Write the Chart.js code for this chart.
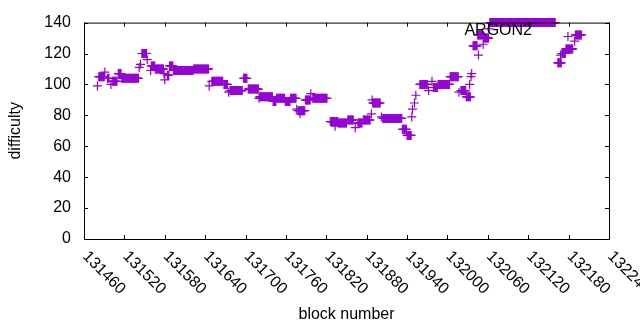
<!DOCTYPE html>
<html>
<head>
<meta charset="utf-8">
<script src="https://cdn.jsdelivr.net/npm/chart.js@4/dist/chart.umd.min.js"></script>
<style>
  html, body { margin: 0; padding: 0; background: #fff; }
</style>
</head>
<body>
<canvas id="chart" width="640" height="330"></canvas>
<script>
// runs of consecutive blocks sharing the same difficulty
const runStart = [
  131480, 131482, 131491, 131495, 131500, 131502, 131511, 131516, 131542, 131544,
  131546, 131554, 131559, 131560, 131566, 131579, 131580, 131584, 131587, 131593,
  131623, 131646, 131650, 131668, 131675, 131677, 131697, 131704, 131720, 131721,
  131741, 131746, 131759, 131767, 131776, 131778, 131781, 131789, 131797, 131800,
  131826, 131833, 131838, 131852, 131863, 131867, 131875, 131887, 131888, 131889,
  131902, 131904, 131933, 131940, 131947, 131948, 131951, 131953, 131959, 131972,
  131977, 131979, 131986, 132004, 132017, 132020, 132028, 132033, 132035, 132036,
  132038, 132045, 132046, 132053, 132054, 132062, 132063, 132164, 132168, 132170,
  132176, 132179, 132189, 132190
];
const runEnd = [
  131480, 131490, 131491, 131497, 131500, 131509, 131515, 131541, 131542, 131544,
  131553, 131554, 131559, 131565, 131578, 131579, 131580, 131586, 131592, 131622,
  131645, 131646, 131666, 131673, 131675, 131695, 131702, 131719, 131720, 131740,
  131745, 131758, 131766, 131775, 131776, 131788, 131781, 131796, 131797, 131821,
  131837, 131833, 131850, 131860, 131863, 131873, 131885, 131887, 131888, 131900,
  131902, 131932, 131939, 131946, 131947, 131948, 131951, 131953, 131970, 131972,
  131977, 131985, 132003, 132016, 132017, 132027, 132034, 132033, 132035, 132036,
  132044, 132052, 132046, 132053, 132061, 132062, 132160, 132169, 132168, 132175,
  132186, 132179, 132189, 132199
];
const runDifficulty = [
  99, 105, 108, 104, 100, 102, 107, 104, 111, 113,
  120, 116, 109, 112, 110, 107, 103, 106, 112, 109,
  110, 99, 102, 100, 95, 96, 104, 97, 91, 92,
  89, 91, 89, 91, 84, 83, 81, 90, 94, 91,
  76, 73, 75, 77, 72, 75, 77, 81, 90, 88,
  79, 78, 71, 67, 79, 84, 88, 93, 100, 96,
  102, 98, 100, 105, 95, 96, 92, 100, 105, 107,
  125, 132, 119, 126, 130, 136, 140, 114, 119, 120,
  123, 131, 128, 132
];
const xTicks = [131460, 131520, 131580, 131640, 131700, 131760, 131820,
                131880, 131940, 132000, 132060, 132120, 132180, 132240];
const yTicks = [0, 20, 40, 60, 80, 100, 120, 140];
const seriesName = "ARGON2";

const FONT = "16px 'Liberation Sans', Arial, sans-serif";
const PURPLE = "#9400d3";

const points = [];
for (let i = 0; i < runStart.length; i++) {
  for (let b = runStart[i]; b <= runEnd[i]; b++) {
    points.push({ x: b, y: runDifficulty[i] });
  }
}

// gnuplot-like frame: box, inward ticks, rotated x labels, titles, key text
const gnuplotFrame = {
  id: "gnuplotFrame",
  afterDraw(chart) {
    const ctx = chart.ctx;
    const a = chart.chartArea;
    const xs = chart.scales.x;
    const ys = chart.scales.y;
    const tick = 4;
    ctx.save();
    ctx.strokeStyle = "#000";
    ctx.lineWidth = 1;
    ctx.strokeRect(a.left + 0.5, a.top + 0.5, a.right - a.left, a.bottom - a.top);
    ctx.beginPath();
    xs.ticks.forEach(t => {
      const px = Math.round(xs.getPixelForValue(t.value)) + 0.5;
      ctx.moveTo(px, a.bottom); ctx.lineTo(px, a.bottom - tick);
      ctx.moveTo(px, a.top); ctx.lineTo(px, a.top + tick);
    });
    ys.ticks.forEach(t => {
      const py = Math.round(ys.getPixelForValue(t.value)) + 0.5;
      ctx.moveTo(a.left, py); ctx.lineTo(a.left + tick, py);
      ctx.moveTo(a.right, py); ctx.lineTo(a.right - tick, py);
    });
    ctx.stroke();

    ctx.fillStyle = "#000";
    ctx.font = FONT;
    ctx.textAlign = "left";
    ctx.textBaseline = "middle";
    xs.ticks.forEach(t => {
      const px = xs.getPixelForValue(t.value);
      ctx.save();
      ctx.translate(px + 1, a.bottom + 15);
      ctx.rotate(Math.PI / 4);
      ctx.fillText(String(t.value), 0, 0);
      ctx.restore();
    });

    ctx.textAlign = "center";
    ctx.fillText("block number", (a.left + a.right) / 2, 315);
    ctx.save();
    ctx.translate(16, (a.top + a.bottom) / 2);
    ctx.rotate(-Math.PI / 2);
    ctx.fillText("difficulty", 0, 0);
    ctx.restore();

    ctx.textAlign = "right";
    ctx.fillText(seriesName, 532, 31);
    ctx.restore();
  }
};

new Chart(document.getElementById("chart"), {
  type: "scatter",
  data: {
    datasets: [{
      label: seriesName,
      data: points,
      pointStyle: "cross",
      pointRadius: 4.5,
      pointHoverRadius: 4.5,
      borderColor: PURPLE,
      backgroundColor: PURPLE,
      borderWidth: 1.2,
      clip: false
    }]
  },
  options: {
    responsive: false,
    animation: false,
    devicePixelRatio: 1,
    layout: { padding: { top: 19, right: 31, left: 0, bottom: 0 } },
    plugins: { legend: { display: false }, tooltip: { enabled: false } },
    scales: {
      x: {
        type: "linear",
        min: xTicks[0],
        max: xTicks[xTicks.length - 1],
        grid: { display: false, drawTicks: false },
        border: { display: false },
        ticks: { display: false },
        afterBuildTicks: s => { s.ticks = xTicks.map(v => ({ value: v })); },
        afterFit: s => { s.height = 91; }
      },
      y: {
        min: yTicks[0],
        max: yTicks[yTicks.length - 1],
        grid: { display: false, drawTicks: false },
        border: { display: false },
        ticks: {
          padding: 13,
          color: "#000",
          font: { family: "'Liberation Sans', Arial, sans-serif", size: 16 }
        },
        afterBuildTicks: s => { s.ticks = yTicks.map(v => ({ value: v })); },
        afterFit: s => { s.width = 84; }
      }
    }
  },
  plugins: [gnuplotFrame]
});
</script>
</body>
</html>
